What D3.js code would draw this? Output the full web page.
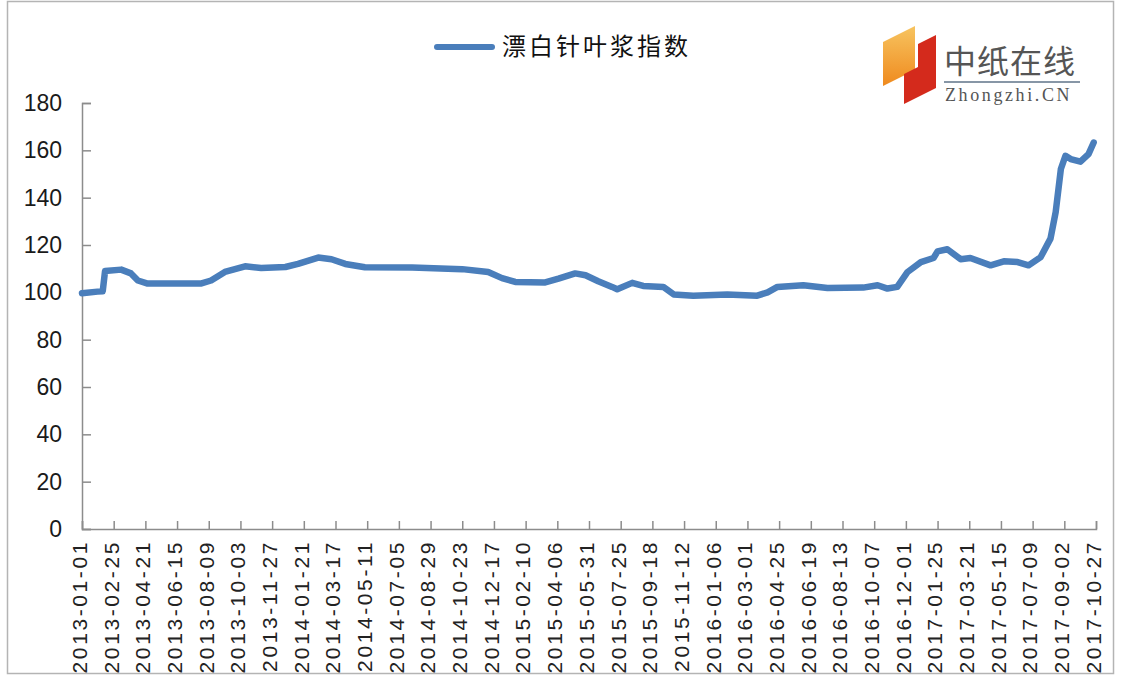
<!DOCTYPE html>
<html>
<head>
<meta charset="utf-8">
<script src="https://cdn.jsdelivr.net/npm/d3@7"></script>
<style>
  body { margin: 0; background: #fff; }
  svg { display: block; }
</style>
</head>
<body>
<svg id="chart"></svg>
<script>
var viewWidth = 1121;
var viewHeight = 684;

// series: bleached softwood pulp index
var dates = [
  "2013-01-01", "2013-01-28", "2013-02-06", "2013-02-10", "2013-03-10", "2013-03-27",
  "2013-04-08", "2013-04-25", "2013-07-26", "2013-08-13", "2013-09-06", "2013-10-11",
  "2013-11-08", "2013-12-20", "2014-01-11", "2014-02-15", "2014-03-10", "2014-04-03",
  "2014-05-07", "2014-07-28", "2014-10-23", "2014-12-07", "2014-12-31", "2015-01-23",
  "2015-03-16", "2015-04-08", "2015-05-07", "2015-05-25", "2015-06-16", "2015-07-10",
  "2015-07-19", "2015-08-14", "2015-09-02", "2015-10-07", "2015-10-25", "2015-11-28",
  "2016-01-26", "2016-03-18", "2016-04-05", "2016-04-22", "2016-06-06", "2016-07-18",
  "2016-09-18", "2016-10-13", "2016-10-30", "2016-11-16", "2016-12-04", "2016-12-27",
  "2017-01-18", "2017-01-25", "2017-02-11", "2017-03-06", "2017-03-23", "2017-04-27",
  "2017-05-20", "2017-06-13", "2017-07-02", "2017-07-23", "2017-08-09", "2017-08-18",
  "2017-08-27", "2017-09-04", "2017-09-13", "2017-09-30", "2017-10-14", "2017-10-23"
];
var values = [
  99.6, 100.3, 100.5, 109.0, 109.6, 108.0,
  105.0, 103.7, 103.7, 105.0, 108.6, 111.0,
  110.3, 110.7, 112.0, 114.7, 114.0, 112.0,
  110.6, 110.5, 109.8, 108.6, 106.0, 104.4,
  104.2, 105.8, 108.0, 107.2, 104.7, 102.3,
  101.3, 104.0, 102.7, 102.3, 99.1, 98.6,
  99.1, 98.6, 100.0, 102.3, 103.0, 101.8,
  102.0, 103.0, 101.6, 102.3, 108.6, 112.8,
  114.5, 117.3, 118.2, 114.0, 114.5, 111.4,
  113.1, 112.8, 111.4, 114.9, 122.7, 133.9,
  152.1, 157.7, 156.3, 155.2, 158.4, 163.3
];

var tickLabels = [
  "2013-01-01", "2013-02-25", "2013-04-21", "2013-06-15", "2013-08-09", "2013-10-03",
  "2013-11-27", "2014-01-21", "2014-03-17", "2014-05-11", "2014-07-05", "2014-08-29",
  "2014-10-23", "2014-12-17", "2015-02-10", "2015-04-06", "2015-05-31", "2015-07-25",
  "2015-09-18", "2015-11-12", "2016-01-06", "2016-03-01", "2016-04-25", "2016-06-19",
  "2016-08-13", "2016-10-07", "2016-12-01", "2017-01-25", "2017-03-21", "2017-05-15",
  "2017-07-09", "2017-09-02", "2017-10-27"
];
var yTicks = [0, 20, 40, 60, 80, 100, 120, 140, 160, 180];
var seriesName = "漂白针叶浆指数";

var parse = d3.timeParse("%Y-%m-%d");
var data = dates.map(function(d, i) { return {date: parse(d), value: values[i]}; });

var svg = d3.select("#chart")
    .attr("width", viewWidth)
    .attr("height", viewHeight);

// outer frame
svg.append("rect")
    .attr("x", 7.5).attr("y", 1.5)
    .attr("width", 1106).attr("height", 672)
    .attr("fill", "none")
    .attr("stroke", "#b4b4b4")
    .attr("stroke-width", 1.5);

var x = d3.scaleTime()
    .domain([parse(tickLabels[0]), parse(tickLabels[tickLabels.length - 1])])
    .range([82, 1096]);
var y = d3.scaleLinear()
    .domain([0, 180])
    .range([529, 103]);

var axisColor = "#8c8c8c";

// y axis
var yAxis = d3.axisLeft(y)
    .tickValues(yTicks)
    .tickSize(-9)
    .tickPadding(20);
var gy = svg.append("g")
    .attr("transform", "translate(82,0)")
    .call(yAxis);
gy.select(".domain").attr("stroke", axisColor).attr("stroke-width", 1.5);
gy.selectAll(".tick line").attr("stroke", axisColor).attr("stroke-width", 1.5);
gy.selectAll(".tick text")
    .attr("fill", "#1a1a1a")
    .style("font-family", "'Liberation Sans', Arial, sans-serif")
    .style("font-size", "23px");

// x axis
var xAxis = d3.axisBottom(x)
    .tickValues(tickLabels.map(parse))
    .tickSize(-8)
    .tickFormat(d3.timeFormat("%Y-%m-%d"));
var gx = svg.append("g")
    .attr("transform", "translate(0,529)")
    .call(xAxis);
gx.select(".domain").attr("stroke", axisColor).attr("stroke-width", 1.5);
gx.selectAll(".tick line").attr("stroke", axisColor).attr("stroke-width", 1.5);
gx.selectAll(".tick text")
    .attr("fill", "#222")
    .attr("transform", "rotate(-90)")
    .attr("x", -11)
    .attr("y", -3)
    .attr("dy", "0.35em")
    .style("text-anchor", "end")
    .style("letter-spacing", "2.6px")
    .style("font-family", "'Liberation Sans', Arial, sans-serif")
    .style("font-size", "21px");

// series line
var line = d3.line()
    .x(function(d) { return x(d.date); })
    .y(function(d) { return y(d.value); });

svg.append("path")
    .datum(data)
    .attr("d", line)
    .attr("fill", "none")
    .attr("stroke", "#4a7ebb")
    .attr("stroke-width", 6.5)
    .attr("stroke-linejoin", "round")
    .attr("stroke-linecap", "round");

// legend
var legend = svg.append("g").attr("transform", "translate(437,47)");
legend.append("line")
    .attr("x1", 0).attr("x2", 55)
    .attr("stroke", "#4a7ebb")
    .attr("stroke-width", 6)
    .attr("stroke-linecap", "round");
legend.append("text")
    .attr("x", 65).attr("y", 0)
    .attr("dy", "0.35em")
    .attr("fill", "#111")
    .style("font-family", "'Noto Sans CJK SC', sans-serif")
    .style("font-size", "24px")
    .style("letter-spacing", "3px")
    .text(seriesName);

// logo
var logo = svg.append("g");
var grad = svg.append("defs").append("linearGradient")
    .attr("id", "orangeGrad")
    .attr("x1", "0").attr("y1", "0").attr("x2", "0").attr("y2", "1");
grad.append("stop").attr("offset", "0%").attr("stop-color", "#f7c460");
grad.append("stop").attr("offset", "100%").attr("stop-color", "#ef8a1e");
logo.append("polygon")
    .attr("points", "883,42 915,26 915,70 883,86")
    .attr("fill", "url(#orangeGrad)");
logo.append("polygon")
    .attr("points", "918,44 936,35 936,88 904,104 904,74 918,67")
    .attr("fill", "#d42a1c");
logo.append("text")
    .attr("x", 944).attr("y", 73)
    .attr("fill", "#555")
    .style("font-family", "'Noto Sans CJK SC', sans-serif")
    .style("font-size", "32px")
    .style("letter-spacing", "1px")
    .text("中纸在线");
logo.append("line")
    .attr("x1", 944).attr("x2", 1080)
    .attr("y1", 82).attr("y2", 82)
    .attr("stroke", "#8796a6")
    .attr("stroke-width", 2);
logo.append("text")
    .attr("x", 945).attr("y", 101)
    .attr("fill", "#555")
    .style("font-family", "'Liberation Serif', 'DejaVu Serif', serif")
    .style("font-size", "18px")
    .style("letter-spacing", "2.6px")
    .text("Zhongzhi.CN");
</script>
</body>
</html>
